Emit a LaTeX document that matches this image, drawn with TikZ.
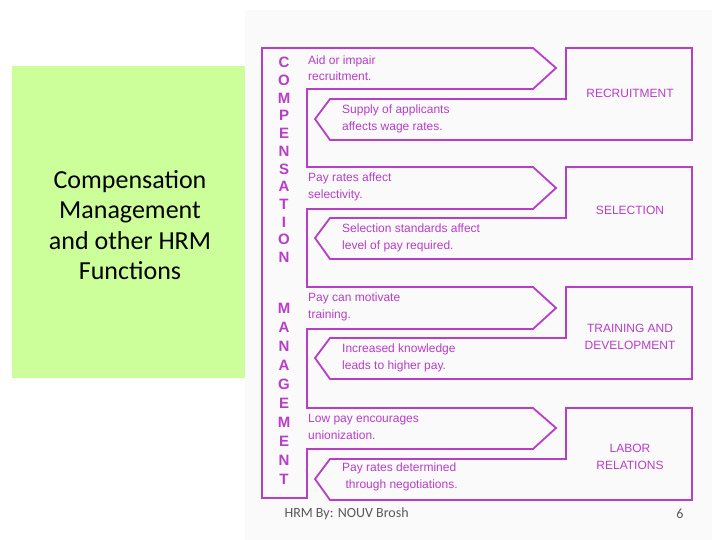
\documentclass[tikz,border=0pt]{standalone}
\usepackage{fontspec}
\setmainfont{Liberation Sans}
\newfontfamily\calib{Carlito}
\begin{document}
\begin{tikzpicture}[x=1pt,y=-1pt,
  pl/.style={draw=purp,line width=1.8pt,line join=miter},
  lbl/.style={text=purp,font=\fontsize{12}{16.5}\selectfont,align=left,anchor=west,inner sep=0},
  fn/.style={text=purp,font=\fontsize{12}{17}\selectfont,align=center,inner sep=0},
  vl/.style={text=purp,font=\bfseries\fontsize{15}{15}\selectfont,inner sep=0}]
\definecolor{purp}{HTML}{B83DC8}
\definecolor{grn}{HTML}{CCFF99}
\useasboundingbox (0,0) rectangle (720,540);
\fill[white] (0,0) rectangle (720,540);
\fill[black!2] (245,10) rectangle (712,540);
\fill[grn] (12,66) rectangle (245,378);
\node[font=\calib\fontsize{26}{30.5}\selectfont,align=center] (title) at (130,225) {Compensation\\Management\\and other HRM\\Functions};
% compensation outline
\draw[pl] (262,48) -- (533,48) -- (556,68) -- (533,89) -- (307,89)
 -- (307,167) -- (533,167) -- (556,188) -- (533,209) -- (307,209)
 -- (307,287) -- (533,287) -- (556,308) -- (533,329) -- (307,329)
 -- (307,408) -- (533,408) -- (556,428) -- (533,449) -- (307,449)
 -- (307,498) -- (262,498) -- cycle;
% function outlines
\foreach \y in {48,167,287,408}{
 \draw[pl] (566,\y) -- (692,\y) -- (692,\y+92) -- (330,\y+92) -- (315,\y+71) -- (330,\y+51) -- (566,\y+51) -- cycle;
}
\foreach \c [count=\i] in {C,O,M,P,E,N,S,A,T,I,O,N}{
 \node[vl] (c\i) at (284,45+\i*17.7) {\c};}
\foreach \c [count=\i] in {M,A,N,A,G,E,M,E,N,T}{
 \node[vl] (m\i) at (284,289+\i*19) {\c};}
\node[lbl] (a1) at (308,68) {Aid or impair\\recruitment.};
\node[lbl] (b1) at (342,119) {Supply of applicants\\affects wage rates.};
\node[lbl] (a2) at (308,187) {Pay rates affect\\selectivity.};
\node[lbl] (b2) at (342,238) {Selection standards affect\\level of pay required.};
\node[lbl] (a3) at (308,307) {Pay can motivate\\training.};
\node[lbl] (b3) at (342,358) {Increased knowledge\\leads to higher pay.};
\node[lbl] (a4) at (308,427) {Low pay encourages\\unionization.};
\node[lbl] (b4) at (342,477) {Pay rates determined\\\ through negotiations.};
\node[fn] (f1) at (630,93) {RECRUITMENT};
\node[fn] (f2) at (630,210) {SELECTION};
\node[fn] (f3) at (630,337) {TRAINING AND\\DEVELOPMENT};
\node[fn] (f4) at (630,457) {LABOR\\RELATIONS};
\node[font=\calib\fontsize{14}{16}\selectfont,text=black!65,anchor=west] (foot) at (281,514) {HRM By: NOUV Brosh};
\node[font=\calib\fontsize{14}{16}\selectfont,text=black!65] (pg) at (680,514) {6};
\end{tikzpicture}
\end{document}
